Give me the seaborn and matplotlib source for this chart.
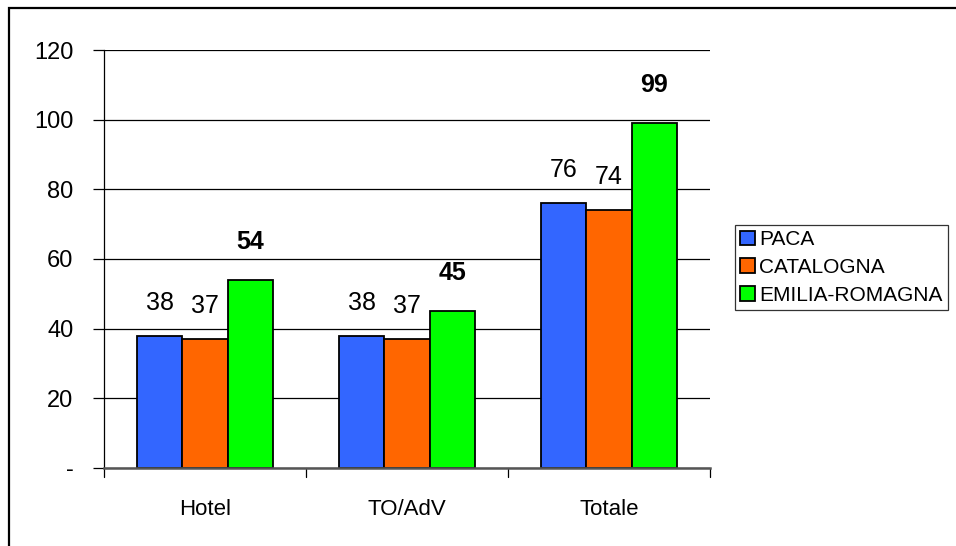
import pandas as pd
import matplotlib
matplotlib.use("Agg")
import matplotlib.pyplot as plt
import seaborn as sns
from matplotlib.patches import Rectangle
from matplotlib import font_manager

# values
categories = ['Hotel', 'TO/AdV', 'Totale']
regions = ['PACA', 'CATALOGNA', 'EMILIA-ROMAGNA']
paca = [38, 38, 76]
catalogna = [37, 37, 74]
emilia = [54, 45, 99]
yticks = [0, 20, 40, 60, 80, 100, 120]
ytick_labels = ['-', '20', '40', '60', '80', '100', '120']

colors = ['#3366FF', '#FF6600', '#00FF00']

rows = []
for reg, vals in zip(regions, [paca, catalogna, emilia]):
    for cat, v in zip(categories, vals):
        rows.append({'Categoria': cat, 'Regione': reg, 'Valore': v})
df = pd.DataFrame(rows)

sns.set_theme(style="white")
names = {f.name for f in font_manager.fontManager.ttflist}
fam = 'Liberation Sans Narrow' if 'Liberation Sans Narrow' in names else 'Liberation Sans'
plt.rcParams['font.family'] = [fam, 'DejaVu Sans']
plt.rcParams['text.color'] = 'black'
plt.rcParams['xtick.color'] = 'black'
plt.rcParams['ytick.color'] = 'black'

fig = plt.figure(figsize=(9.56, 5.46), dpi=100)
ax = fig.add_axes([0.1088, 0.1429, 0.6339, 0.7655])

sns.barplot(data=df, x='Categoria', y='Valore', hue='Regione', hue_order=regions,
            order=categories, palette=colors, width=0.675, gap=0,
            edgecolor='black', linewidth=1.3, saturation=1, ax=ax, legend=True)

ax.set_ylim(0, 120)
ax.set_xlim(-0.5, 2.5)
ax.set_yticks(yticks)
ax.set_yticklabels(ytick_labels, fontsize=17)
ax.yaxis.grid(True, color='black', linewidth=0.9)
ax.set_axisbelow(True)
ax.set_xlabel('')
ax.set_ylabel('')
ax.tick_params(axis='x', length=0, labelsize=16, pad=22)
ax.tick_params(axis='y', length=8, width=0.9, color='black', left=True, pad=14)

for s in ['top', 'right']:
    ax.spines[s].set_visible(False)
ax.spines['left'].set_color('black')
ax.spines['left'].set_linewidth(0.9)
ax.spines['bottom'].set_color('#555555')
ax.spines['bottom'].set_linewidth(1.8)

# category separator ticks below x axis
for xb in [-0.5, 0.5, 1.5, 2.5]:
    ax.plot([xb, xb], [0, -2.6], color='black', linewidth=0.9, clip_on=False)

# value labels
for i, cont in enumerate(ax.containers):
    bold = (i == 2)
    ax.bar_label(cont, labels=[str(int(b.get_height())) for b in cont],
                 padding=15 if not bold else 19, fontsize=18, color='black',
                 fontweight='bold' if bold else 'normal')

leg = ax.legend(loc='upper left', bbox_to_anchor=(0.7688, 0.588),
                bbox_transform=fig.transFigure, frameon=True, fancybox=False,
                edgecolor='black', fontsize=15, handlelength=0.7, handleheight=0.7,
                handletextpad=0.2, labelspacing=0.42, borderpad=0.25,
                borderaxespad=0)
leg.get_frame().set_linewidth(0.9)

fig.patches.append(Rectangle((9 / 956, -1), 2, 2 - 8 / 546, transform=fig.transFigure,
                             fill=False, edgecolor='black', linewidth=1.6))

fig.savefig('out.png', dpi=100)
